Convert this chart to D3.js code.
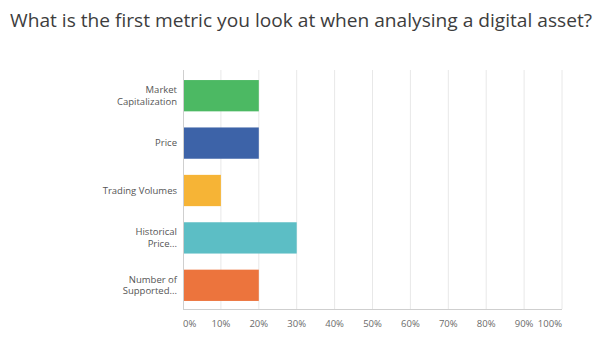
<!DOCTYPE html>
<html><head><meta charset="utf-8">
<script src="https://cdn.jsdelivr.net/npm/d3@7"></script>
<style>
body{margin:0;background:#fff;}
svg{display:block;font-family:"Open Sans",sans-serif;}
</style></head>
<body><svg id="c" width="600" height="343"></svg>
<script>
const categories = [["Market","Capitalization"],["Price"],["Trading Volumes"],["Historical","Price..."],["Number of","Supported..."]];
const values = [20, 20, 10, 30, 20];
const colors = ["#4cb963","#3d63a8","#f6b436","#5cbec5","#ec743d"];
const ticks = [0,10,20,30,40,50,60,70,80,90,100];

const svg = d3.select("#c");
const x = d3.scaleLinear().domain([0,100]).range([183,562]);
const y = d3.scaleBand().domain(d3.range(categories.length)).range([72,309]).paddingInner(0.34).paddingOuter(0.17);

svg.append("text").attr("x",10).attr("y",27).attr("font-size",19).attr("fill","#3d3d3d")
  .attr("font-family","'Open Sans', sans-serif").attr("font-weight",400)
  .attr("textLength",582).attr("lengthAdjust","spacingAndGlyphs")
  .text("What is the first metric you look at when analysing a digital asset?");

// gridlines
svg.append("g").selectAll("line").data(ticks.slice(1)).join("line")
  .attr("x1",d=>x(d)).attr("x2",d=>x(d)).attr("y1",70).attr("y2",309)
  .attr("stroke","#e8e8e8").attr("stroke-width",1);

// bars
svg.append("g").selectAll("rect").data(values).join("rect")
  .attr("x",x(0)).attr("y",(d,i)=>y(i)).attr("width",d=>x(d)-x(0)).attr("height",y.bandwidth())
  .attr("fill",(d,i)=>colors[i]);

// axes lines
svg.append("line").attr("x1",x(0)+0.5).attr("x2",x(0)+0.5).attr("y1",70).attr("y2",309).attr("stroke","#cfcfcf");
svg.append("line").attr("x1",x(0)).attr("x2",x(100)).attr("y1",309.5).attr("y2",309.5).attr("stroke","#cfcfcf");

// tick labels
svg.append("g").selectAll("text").data(ticks).join("text")
  .attr("x",d=>x(d)).attr("y",327)
  .attr("text-anchor",d=>d===0?"start":d===100?"end":"middle")
  .attr("font-size",9.5).attr("fill","#6b6b6b")
  .text(d=>d+"%");

// category labels
const lg = svg.append("g").selectAll("text").data(categories).join("text")
  .attr("text-anchor","end").attr("font-size",9.5).attr("fill","#555")
  .attr("transform",(d,i)=>`translate(177,${y(i)+y.bandwidth()/2})`);
lg.selectAll("tspan").data(d=>d.map((t,j)=>({t,j,n:d.length}))).join("tspan")
  .attr("x",0).attr("y",d=>(d.j-(d.n-1)/2)*11.5).attr("dy","0.35em").text(d=>d.t);
</script></body></html>
